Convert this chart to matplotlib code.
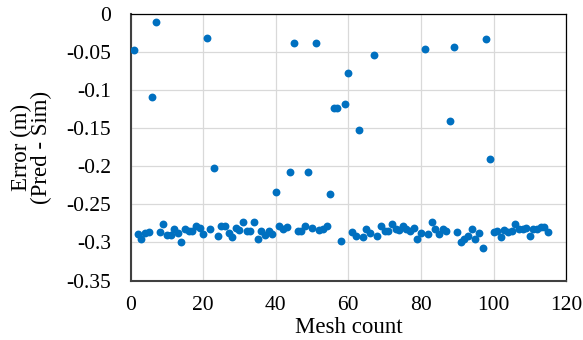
import matplotlib
matplotlib.use("Agg")
import matplotlib.pyplot as plt
import numpy as np

plt.rcParams.update({
    "font.family": "Liberation Serif",
    "axes.unicode_minus": False,
})

DOT_C = "#0070C0"
GRID_C = "#D9D9D9"

# ---------------------------------------------------------------- data
mesh_count = np.arange(1, 116)
error_m = [
    -0.047, -0.289, -0.296, -0.287, -0.286, -0.109, -0.0105, -0.286, -0.276, -0.290,   # 1-10
    -0.290, -0.282, -0.287, -0.2996, -0.282, -0.285, -0.285, -0.2785, -0.281, -0.289,  # 11-20
    -0.0316, -0.282, -0.202, -0.292, -0.2785, -0.279, -0.287, -0.293, -0.281, -0.284,  # 21-30
    -0.273, -0.2855, -0.2855, -0.273, -0.296, -0.2855, -0.290, -0.285, -0.289, -0.234, # 31-40
    -0.2785, -0.283, -0.280, -0.208, -0.0386, -0.285, -0.285, -0.2785, -0.207, -0.281, # 41-50
    -0.0386, -0.284, -0.283, -0.2785, -0.236, -0.124, -0.124, -0.298, -0.118, -0.077,  # 51-60
    -0.286, -0.292, -0.152, -0.293, -0.283, -0.287, -0.0535, -0.292, -0.278, -0.2855,  # 61-70
    -0.285, -0.276, -0.283, -0.284, -0.2785, -0.282, -0.2855, -0.281, -0.296, -0.287,  # 71-80
    -0.0465, -0.289, -0.273, -0.283, -0.289, -0.283, -0.2855, -0.140, -0.0439, -0.286, # 81-90
    -0.2996, -0.295, -0.292, -0.283, -0.296, -0.2875, -0.3075, -0.0329, -0.191, -0.286,# 91-100
    -0.2855, -0.293, -0.284, -0.286, -0.285, -0.2755, -0.283, -0.283, -0.281, -0.292,  # 101-110
    -0.282, -0.282, -0.280, -0.280, -0.286,                                             # 111-115
]
x_ticks = [0, 20, 40, 60, 80, 100, 120]
y_ticks = [0, -0.05, -0.1, -0.15, -0.2, -0.25, -0.3, -0.35]

# ---------------------------------------------------------------- plot
fig = plt.figure(figsize=(5.83, 3.40), dpi=100)
ax = fig.add_axes([0.224, 0.175, 0.747, 0.784])

ax.scatter(mesh_count, error_m, s=32, color=DOT_C, linewidths=0, zorder=3)

ax.set_xlim(0, 120)
ax.set_ylim(-0.35, 0)
ax.set_xticks(x_ticks)
ax.set_yticks(y_ticks)
ax.set_yticklabels([f"{v:g}" for v in y_ticks])
ax.grid(True, color=GRID_C, linewidth=0.9, zorder=0)
ax.set_axisbelow(True)
ax.tick_params(axis="both", length=0, labelsize=15.5)
ax.tick_params(axis="y", pad=14)
ax.tick_params(axis="x", pad=11)

for side in ("top", "right"):
    ax.spines[side].set_color("black")
    ax.spines[side].set_linewidth(0.9)
for side in ("left", "bottom"):
    ax.spines[side].set_color("#404040")
    ax.spines[side].set_linewidth(1.5)

ax.set_xlabel("Mesh count", fontsize=16.5, labelpad=1.5)
ax.set_ylabel("Error (m)\n(Pred - Sim)", fontsize=16.5, linespacing=0.95, labelpad=10)

fig.savefig("out.png", dpi=100)
